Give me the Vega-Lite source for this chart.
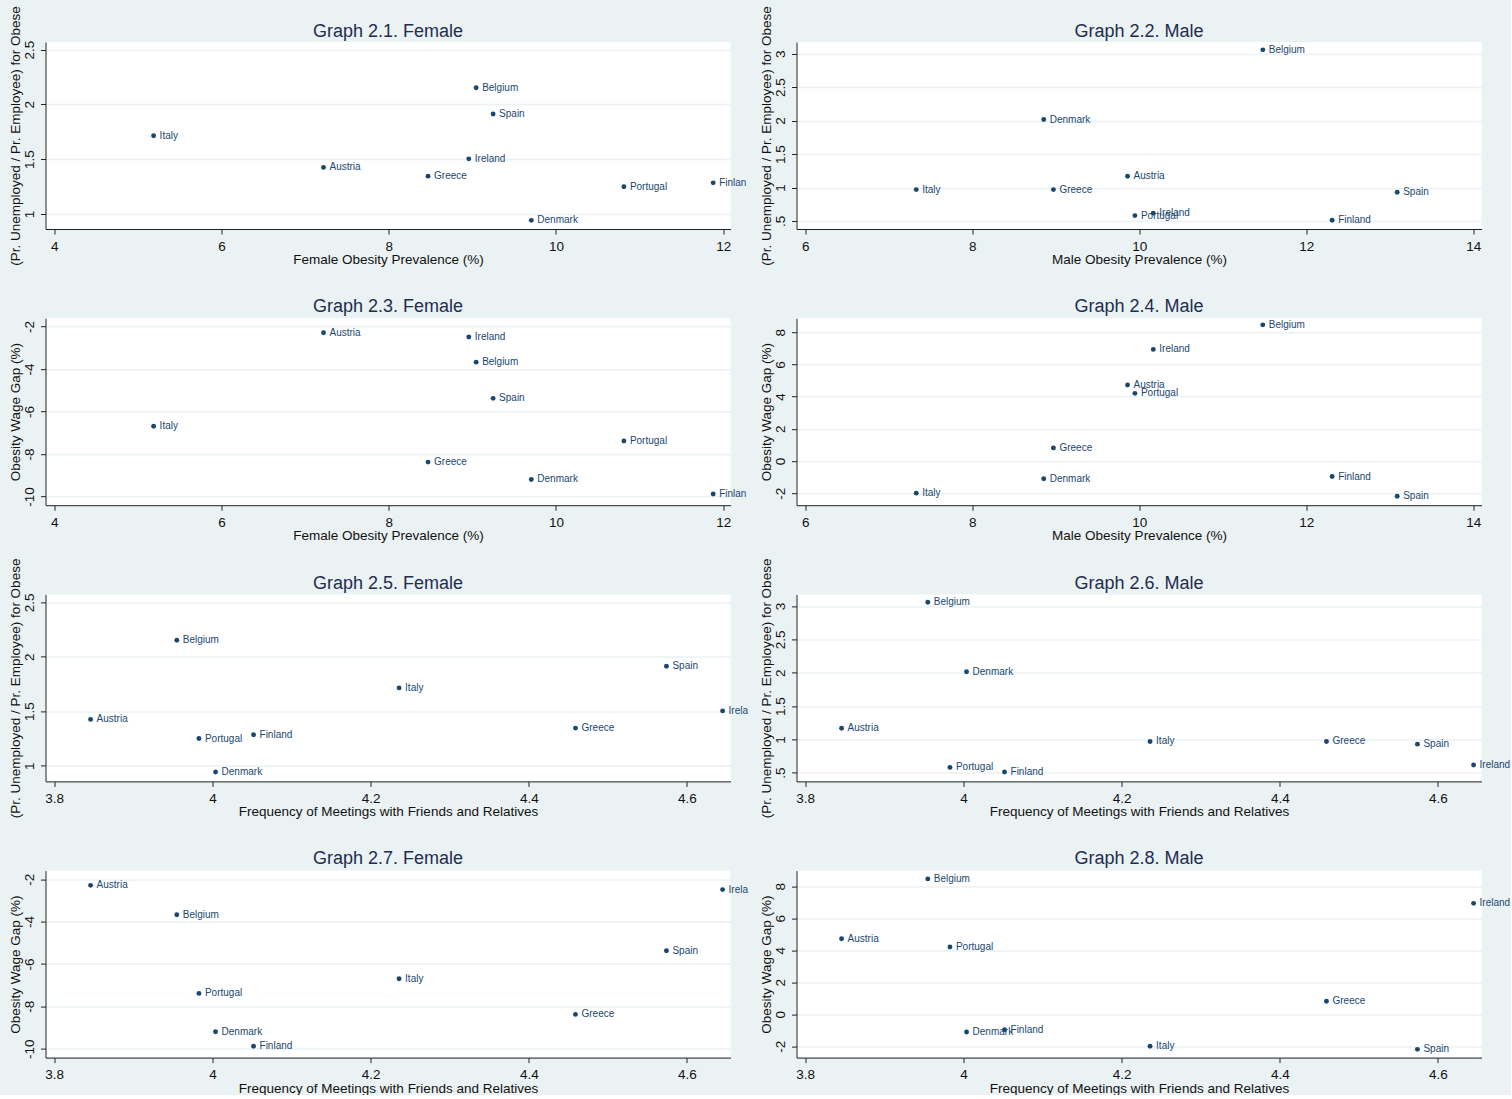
{
  "$schema": "https://vega.github.io/schema/vega-lite/v6.json",
  "background": "#EAF2F3",
  "padding": {"left": 7.5, "top": 5, "right": 0, "bottom": 0},
  "bounds": "flush",
  "columns": 2,
  "spacing": {"row": 89.2, "column": 66},
  "datasets": {
    "c": [
      {"c": "Austria", "fob": 7.22, "mob": 9.86, "meet": 3.846, "fr": 1.425, "mr": 1.168, "fg": -2.29, "mg": 4.72},
      {"c": "Belgium", "fob": 9.045, "mob": 11.48, "meet": 3.955, "fr": 2.151, "mr": 3.057, "fg": -3.675, "mg": 8.456},
      {"c": "Denmark", "fob": 9.705, "mob": 8.856, "meet": 4.004, "fr": 0.942, "mr": 2.015, "fg": -9.2, "mg": -1.11},
      {"c": "Finland", "fob": 11.88, "mob": 12.31, "meet": 4.052, "fr": 1.284, "mr": 0.51, "fg": -9.885, "mg": -0.97},
      {"c": "Greece", "fob": 8.47, "mob": 8.972, "meet": 4.459, "fr": 1.345, "mr": 0.969, "fg": -8.38, "mg": 0.81},
      {"c": "Ireland", "fob": 8.957, "mob": 10.168, "meet": 4.645, "fr": 1.503, "mr": 0.617, "fg": -2.49, "mg": 6.93},
      {"c": "Italy", "fob": 5.188, "mob": 7.329, "meet": 4.236, "fr": 1.714, "mr": 0.969, "fg": -6.695, "mg": -2.0},
      {"c": "Portugal", "fob": 10.812, "mob": 9.948, "meet": 3.983, "fr": 1.249, "mr": 0.58, "fg": -7.39, "mg": 4.2},
      {"c": "Spain", "fob": 9.248, "mob": 13.089, "meet": 4.574, "fr": 1.912, "mr": 0.929, "fg": -5.38, "mg": -2.19}
    ]
  },
  "concat": [
    {
      "title": {"text": "Graph 2.1. Female", "offset": -35},
      "width": 685, "height": 187,
      "data": {"name": "c"},
      "encoding": {
        "x": {"field": "fob", "type": "quantitative", "scale": {"domain": [3.895, 12.087], "nice": false, "zero": false},
              "axis": {"values": [4, 6, 8, 10, 12], "title": "Female Obesity Prevalence (%)", "labelExpr": "toString(datum.value)"}},
        "y": {"field": "fr", "type": "quantitative", "scale": {"domain": [0.863, 2.569], "nice": false, "zero": false},
              "axis": {"values": [1, 1.5, 2, 2.5], "title": "(Pr. Unemployed / Pr. Employee) for Obese", "labelExpr": "datum.value == 0.5 ? '.5' : toString(datum.value)"}}
      },
      "layer": [
        {"mark": {"type": "point", "filled": true, "size": 24, "color": "#1a476f", "opacity": 1}},
        {"mark": {"type": "text", "align": "left", "baseline": "middle", "dx": 6, "fontSize": 10, "color": "#1a476f"},
         "encoding": {"text": {"condition": {"test": "datum.c == 'Finland'", "value": "Finlan"}, "field": "c"}}}
      ]
    },
    {
      "title": {"text": "Graph 2.2. Male", "offset": -35},
      "width": 685, "height": 187,
      "data": {"name": "c"},
      "encoding": {
        "x": {"field": "mob", "type": "quantitative", "scale": {"domain": [5.895, 14.099], "nice": false, "zero": false},
              "axis": {"values": [6, 8, 10, 12, 14], "title": "Male Obesity Prevalence (%)", "labelExpr": "toString(datum.value)"}},
        "y": {"field": "mr", "type": "quantitative", "scale": {"domain": [0.38, 3.174], "nice": false, "zero": false},
              "axis": {"values": [0.5, 1, 1.5, 2, 2.5, 3], "title": "(Pr. Unemployed / Pr. Employee) for Obese", "labelExpr": "datum.value == 0.5 ? '.5' : toString(datum.value)"}}
      },
      "layer": [
        {"mark": {"type": "point", "filled": true, "size": 24, "color": "#1a476f", "opacity": 1}},
        {"mark": {"type": "text", "align": "left", "baseline": "middle", "dx": 6, "fontSize": 10, "color": "#1a476f"},
         "encoding": {"text": {"field": "c"}}}
      ]
    },
    {
      "title": {"text": "Graph 2.3. Female", "offset": 2.5},
      "width": 685, "height": 187,
      "data": {"name": "c"},
      "encoding": {
        "x": {"field": "fob", "type": "quantitative", "scale": {"domain": [3.895, 12.087], "nice": false, "zero": false},
              "axis": {"values": [4, 6, 8, 10, 12], "title": "Female Obesity Prevalence (%)", "labelExpr": "toString(datum.value)"}},
        "y": {"field": "fg", "type": "quantitative", "scale": {"domain": [-10.41, -1.606], "nice": false, "zero": false},
              "axis": {"values": [-10, -8, -6, -4, -2], "title": "Obesity Wage Gap (%)", "labelExpr": "toString(datum.value)"}}
      },
      "layer": [
        {"mark": {"type": "point", "filled": true, "size": 24, "color": "#1a476f", "opacity": 1}},
        {"mark": {"type": "text", "align": "left", "baseline": "middle", "dx": 6, "fontSize": 10, "color": "#1a476f"},
         "encoding": {"text": {"condition": {"test": "datum.c == 'Finland'", "value": "Finlan"}, "field": "c"}}}
      ]
    },
    {
      "title": {"text": "Graph 2.4. Male", "offset": 2.5},
      "width": 685, "height": 187,
      "data": {"name": "c"},
      "encoding": {
        "x": {"field": "mob", "type": "quantitative", "scale": {"domain": [5.895, 14.099], "nice": false, "zero": false},
              "axis": {"values": [6, 8, 10, 12, 14], "title": "Male Obesity Prevalence (%)", "labelExpr": "toString(datum.value)"}},
        "y": {"field": "mg", "type": "quantitative", "scale": {"domain": [-2.75, 8.87], "nice": false, "zero": false},
              "axis": {"values": [-2, 0, 2, 4, 6, 8], "title": "Obesity Wage Gap (%)", "labelExpr": "toString(datum.value)"}}
      },
      "layer": [
        {"mark": {"type": "point", "filled": true, "size": 24, "color": "#1a476f", "opacity": 1}},
        {"mark": {"type": "text", "align": "left", "baseline": "middle", "dx": 6, "fontSize": 10, "color": "#1a476f"},
         "encoding": {"text": {"field": "c"}}}
      ]
    },
    {
      "title": {"text": "Graph 2.5. Female", "offset": -35},
      "width": 685, "height": 187,
      "data": {"name": "c"},
      "encoding": {
        "x": {"field": "meet", "type": "quantitative", "scale": {"domain": [3.789, 4.655], "nice": false, "zero": false},
              "axis": {"values": [3.8, 4, 4.2, 4.4, 4.6], "title": "Frequency of Meetings with Friends and Relatives", "labelExpr": "toString(datum.value)"}},
        "y": {"field": "fr", "type": "quantitative", "scale": {"domain": [0.856, 2.572], "nice": false, "zero": false},
              "axis": {"values": [1, 1.5, 2, 2.5], "title": "(Pr. Unemployed / Pr. Employee) for Obese", "labelExpr": "datum.value == 0.5 ? '.5' : toString(datum.value)"}}
      },
      "layer": [
        {"mark": {"type": "point", "filled": true, "size": 24, "color": "#1a476f", "opacity": 1}},
        {"mark": {"type": "text", "align": "left", "baseline": "middle", "dx": 6, "fontSize": 10, "color": "#1a476f"},
         "encoding": {"text": {"condition": {"test": "datum.c == 'Ireland'", "value": "Irela"}, "field": "c"}}}
      ]
    },
    {
      "title": {"text": "Graph 2.6. Male", "offset": -35},
      "width": 685, "height": 187,
      "data": {"name": "c"},
      "encoding": {
        "x": {"field": "meet", "type": "quantitative", "scale": {"domain": [3.789, 4.655], "nice": false, "zero": false},
              "axis": {"values": [3.8, 4, 4.2, 4.4, 4.6], "title": "Frequency of Meetings with Friends and Relatives", "labelExpr": "toString(datum.value)"}},
        "y": {"field": "mr", "type": "quantitative", "scale": {"domain": [0.37, 3.175], "nice": false, "zero": false},
              "axis": {"values": [0.5, 1, 1.5, 2, 2.5, 3], "title": "(Pr. Unemployed / Pr. Employee) for Obese", "labelExpr": "datum.value == 0.5 ? '.5' : toString(datum.value)"}}
      },
      "layer": [
        {"mark": {"type": "point", "filled": true, "size": 24, "color": "#1a476f", "opacity": 1}},
        {"mark": {"type": "text", "align": "left", "baseline": "middle", "dx": 6, "fontSize": 10, "color": "#1a476f"},
         "encoding": {"text": {"field": "c"}}}
      ]
    },
    {
      "title": {"text": "Graph 2.7. Female", "offset": 2.5},
      "width": 685, "height": 187,
      "data": {"name": "c"},
      "encoding": {
        "x": {"field": "meet", "type": "quantitative", "scale": {"domain": [3.789, 4.655], "nice": false, "zero": false},
              "axis": {"values": [3.8, 4, 4.2, 4.4, 4.6], "title": "Frequency of Meetings with Friends and Relatives", "labelExpr": "toString(datum.value)"}},
        "y": {"field": "fg", "type": "quantitative", "scale": {"domain": [-10.42, -1.594], "nice": false, "zero": false},
              "axis": {"values": [-10, -8, -6, -4, -2], "title": "Obesity Wage Gap (%)", "labelExpr": "toString(datum.value)"}}
      },
      "layer": [
        {"mark": {"type": "point", "filled": true, "size": 24, "color": "#1a476f", "opacity": 1}},
        {"mark": {"type": "text", "align": "left", "baseline": "middle", "dx": 6, "fontSize": 10, "color": "#1a476f"},
         "encoding": {"text": {"condition": {"test": "datum.c == 'Ireland'", "value": "Irela"}, "field": "c"}}}
      ]
    },
    {
      "title": {"text": "Graph 2.8. Male", "offset": 2.5},
      "width": 685, "height": 187,
      "data": {"name": "c"},
      "encoding": {
        "x": {"field": "meet", "type": "quantitative", "scale": {"domain": [3.789, 4.655], "nice": false, "zero": false},
              "axis": {"values": [3.8, 4, 4.2, 4.4, 4.6], "title": "Frequency of Meetings with Friends and Relatives", "labelExpr": "toString(datum.value)"}},
        "y": {"field": "mg", "type": "quantitative", "scale": {"domain": [-2.705, 8.975], "nice": false, "zero": false},
              "axis": {"values": [-2, 0, 2, 4, 6, 8], "title": "Obesity Wage Gap (%)", "labelExpr": "toString(datum.value)"}}
      },
      "layer": [
        {"mark": {"type": "point", "filled": true, "size": 24, "color": "#1a476f", "opacity": 1}},
        {"mark": {"type": "text", "align": "left", "baseline": "middle", "dx": 6, "fontSize": 10, "color": "#1a476f"},
         "encoding": {"text": {"field": "c"}}}
      ]
    }
  ],
  "config": {
    "font": "Liberation Sans",
    "view": {"fill": "white", "stroke": null},
    "title": {"fontSize": 18, "fontWeight": "normal", "color": "#1e2d50", "baseline": "alphabetic", "frame": "group", "anchor": "middle"},
    "axis": {
      "labelFontSize": 13.5, "titleFontSize": 13.5, "titleFontWeight": "normal",
      "labelColor": "#111111", "titleColor": "#111111", "domainColor": "#222222", "tickColor": "#222222",
      "tickSize": 5, "grid": false, "labelFlush": false, "labelOverlap": false
    },
    "axisX": {"labelPadding": 5, "titlePadding": 0},
    "axisY": {"grid": true, "gridColor": "#EAF2F3", "gridWidth": 1.5, "labelAngle": 270, "labelAlign": "center", "labelBaseline": "bottom", "labelPadding": 4, "titlePadding": 0}
  }
}
